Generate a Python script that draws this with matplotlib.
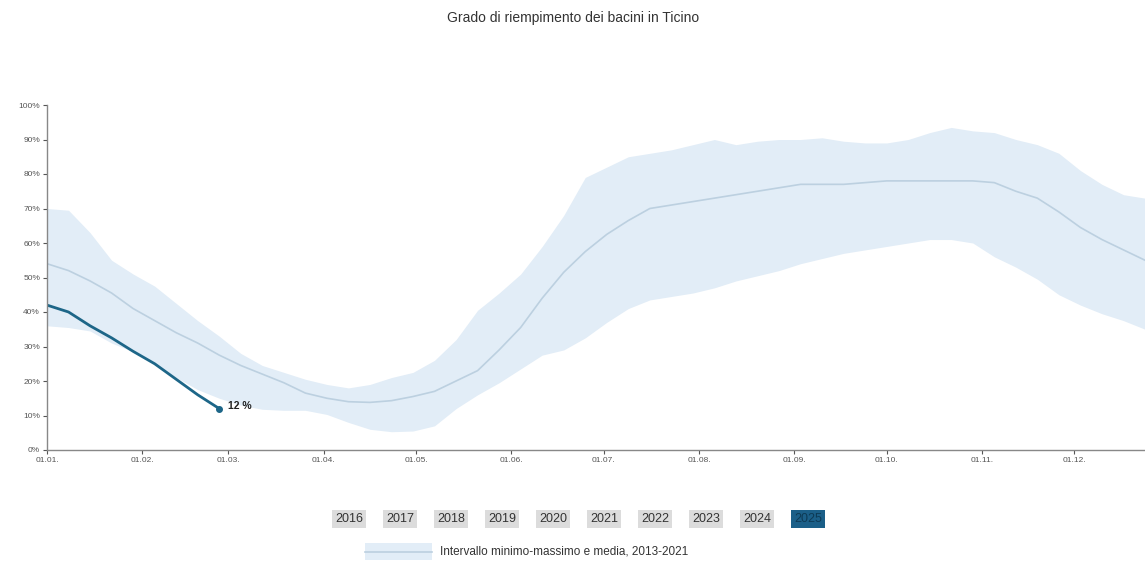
import numpy as np
import matplotlib.pyplot as plt
from matplotlib.patches import Rectangle
from matplotlib.lines import Line2D

plt.rcParams['font.family'] = ['Liberation Sans', 'DejaVu Sans']

# giorni dall'inizio dell'anno (campioni settimanali)
band_days = list(range(0, 358, 7))
band_upper = [70, 69.5, 63, 55, 51, 47.5, 42.5, 37.5, 33, 28, 24.5, 22.5, 20.5, 19, 18,
              19, 21, 22.5, 26, 32, 40.5, 45.5, 51, 59, 68, 79, 82, 85, 86, 87, 88.5, 90,
              88.5, 89.5, 90, 90, 90.5, 89.5, 89, 89, 90, 92, 93.5, 92.5, 92, 90, 88.5,
              86, 81, 77, 74, 73]
band_lower = [36, 35.5, 34.5, 31, 28.5, 25, 21, 17.5, 15, 13, 11.8, 11.5, 11.5, 10.3, 8,
              6, 5.3, 5.5, 7, 12, 16, 19.5, 23.5, 27.5, 29, 32.5, 37, 41, 43.5, 44.5, 45.5, 47,
              49, 50.5, 52, 54, 55.5, 57, 58, 59, 60, 61, 61, 60, 56, 53, 49.5, 45, 42,
              39.5, 37.5, 35]
band_mean = [54, 52, 49, 45.5, 41, 37.5, 34, 31, 27.5, 24.5, 22, 19.5, 16.5, 15, 14,
             13.8, 14.3, 15.5, 17, 20, 23, 29, 35.5, 44, 51.5, 57.5, 62.5, 66.5, 70, 71, 72, 73,
             74, 75, 76, 77, 77, 77, 77.5, 78, 78, 78, 78, 78, 77.5, 75, 73, 69, 64.5,
             61, 58, 55]

days_2025 = [0, 7, 14, 21, 28, 35, 42, 49, 56]
fill_2025 = [42, 40, 36, 32.5, 28.6, 25, 20.5, 16, 12]

month_days = [0, 31, 59, 90, 120, 151, 181, 212, 243, 273, 304, 334]
month_labels = ['01.01.', '01.02.', '01.03.', '01.04.', '01.05.', '01.06.',
                '01.07.', '01.08.', '01.09.', '01.10.', '01.11.', '01.12.']
years = ['2016', '2017', '2018', '2019', '2020', '2021', '2022', '2023', '2024', '2025']

W, H = 1145, 564
fig = plt.figure(figsize=(W / 100, H / 100), dpi=100)
ax = fig.add_axes([47 / W, (H - 450) / H, 1 - 47 / W, (450 - 105) / H])

band_col = '#e2edf7'
mean_col = '#bcd0e0'
line_col = '#1d6688'

ax.fill_between(band_days, band_lower, band_upper, color=band_col, lw=0)
ax.plot(band_days, band_mean, color=mean_col, lw=1.2, solid_joinstyle='round')
ax.plot(days_2025, fill_2025, color=line_col, lw=2, solid_joinstyle='round')
ax.plot(days_2025[-1], fill_2025[-1], 'o', color=line_col, ms=4)
ax.annotate(f'{fill_2025[-1]:.0f} %', (days_2025[-1], fill_2025[-1]), xytext=(6, 2),
            textcoords='offset points', fontsize=7.5, fontweight='bold', color='#222222',
            va='center')

ax.set_xlim(0, 357)
ax.set_ylim(0, 100)
ax.set_yticks(range(0, 101, 10))
ax.set_yticklabels([f'{v}%' for v in range(0, 101, 10)])
ax.set_xticks(month_days)
ax.set_xticklabels(month_labels)
ax.tick_params(labelsize=6, colors='#555555', length=3, width=0.8, pad=2)
for s in ['top', 'right']:
    ax.spines[s].set_visible(False)
for s in ['left', 'bottom']:
    ax.spines[s].set_color('#888888')
    ax.spines[s].set_linewidth(1)

fig.text(573 / W, 1 - 18 / H, 'Grado di riempimento dei bacini in Ticino',
         ha='center', va='center', fontsize=10, color='#333333')

# pulsanti anni
for i, y in enumerate(years):
    sel = y == '2025'
    fig.text((349 + i * 51) / W, 1 - 519 / H, y, ha='center', va='center',
             fontsize=9, color='#0d3a55' if sel else '#333333',
             bbox=dict(boxstyle='square,pad=0.25', fc='#1b5f88' if sel else '#dcdcdc',
                       ec='none'))

# legenda
fig.add_artist(Rectangle((365 / W, 1 - 560 / H), 67 / W, 17 / H,
                         transform=fig.transFigure, fc=band_col, ec='none'))
fig.add_artist(Line2D([365 / W, 432 / W], [1 - 551.5 / H, 1 - 551.5 / H],
                      transform=fig.transFigure, color=mean_col, lw=1.2))
fig.text(440 / W, 1 - 551 / H, 'Intervallo minimo-massimo e media, 2013-2021',
         ha='left', va='center', fontsize=8.5, color='#333333')

fig.savefig('out.png', dpi=100)
